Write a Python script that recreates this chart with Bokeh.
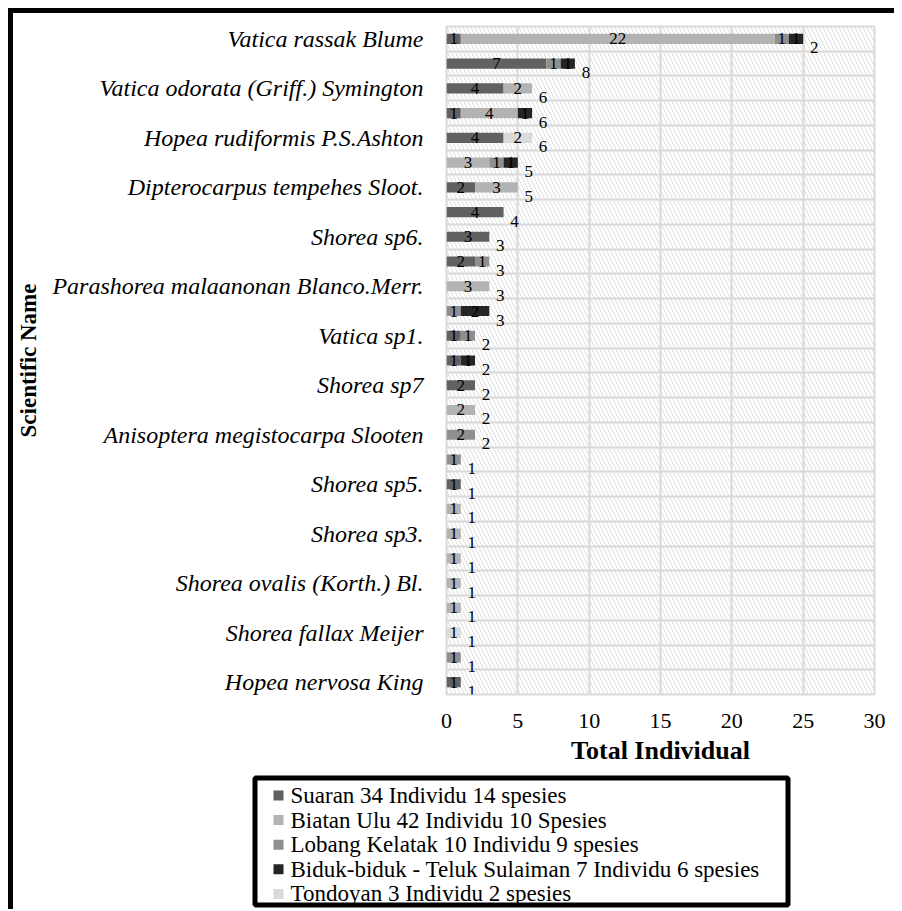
import numpy as np
from bokeh.plotting import figure
from bokeh.layouts import column
from bokeh.models import ColumnDataSource, Range1d, FixedTicker
from bokeh.core.properties import value
from bokeh.embed import file_html
from bokeh.resources import INLINE

# ---- data (rows top to bottom; 27 species rows, every other one labelled) ----
label_rows = [1, 3, 5, 7, 9, 11, 13, 15, 17, 19, 21, 23, 25, 27]
species_labels = [
    "Vatica rassak Blume",
    "Vatica odorata (Griff.) Symington",
    "Hopea rudiformis P.S.Ashton",
    "Dipterocarpus tempehes Sloot.",
    "Shorea sp6.",
    "Parashorea malaanonan Blanco.Merr.",
    "Vatica sp1.",
    "Shorea sp7",
    "Anisoptera megistocarpa Slooten",
    "Shorea sp5.",
    "Shorea sp3.",
    "Shorea ovalis (Korth.) Bl.",
    "Shorea fallax Meijer",
    "Hopea nervosa King",
]
series_names = [
    "Suaran 34 Individu 14 spesies",
    "Biatan Ulu 42 Individu 10 Spesies",
    "Lobang Kelatak 10 Individu 9 spesies",
    "Biduk-biduk - Teluk Sulaiman 7 Individu 6 spesies",
    "Tondoyan 3 Individu 2 spesies",
]
suaran   = [1, 7, 4, 1, 4, 0, 2, 4, 3, 2, 0, 0, 1, 1, 2, 0, 0, 0, 1, 0, 0, 0, 0, 0, 0, 0, 1]
biatan   = [22, 0, 2, 4, 0, 3, 3, 0, 0, 0, 3, 0, 0, 0, 0, 2, 0, 0, 0, 1, 1, 1, 1, 1, 0, 0, 0]
lobang   = [1, 1, 0, 0, 0, 1, 0, 0, 0, 1, 0, 1, 1, 0, 0, 0, 2, 1, 0, 0, 0, 0, 0, 0, 0, 1, 0]
biduk    = [1, 1, 0, 1, 0, 1, 0, 0, 0, 0, 0, 2, 0, 1, 0, 0, 0, 0, 0, 0, 0, 0, 0, 0, 0, 0, 0]
tondoyan = [0, 0, 0, 0, 2, 0, 0, 0, 0, 0, 0, 0, 0, 0, 0, 0, 0, 0, 0, 0, 0, 0, 0, 0, 1, 0, 0]
total_labels = ["2", "8", "6", "6", "6", "5", "5", "4", "3", "3", "3", "3", "2", "2",
                "2", "2", "2", "1", "1", "1", "1", "1", "1", "1", "1", "1", "1"]
x_ticks = [0, 5, 10, 15, 20, 25, 30]

colors = ["#616161", "#b3b3b3", "#8f8f8f", "#252525", "#dadada"]
FONT = "Liberation Serif"

n_rows = len(suaran)
rows = np.arange(1, n_rows + 1)

W, H_MAIN, H_LEG = 881, 760, 136

p = figure(width=W, height=H_MAIN,
           x_range=Range1d(x_ticks[0], x_ticks[-1]),
           y_range=Range1d(n_rows + 0.5, 0.5),
           output_backend="svg", toolbar_location=None,
           min_border_left=433, min_border_right=20,
           min_border_top=13, min_border_bottom=79)
p.frame_align = False
p.background_fill_color = "white"
p.border_fill_color = "white"
p.outline_line_color = "#d9d9d9"
p.outline_line_width = 2

# hatched plot-area background
p.quad(left=[x_ticks[0]], right=[x_ticks[-1]], bottom=[n_rows + 0.5], top=[0.5],
       fill_color=None, line_color=None, hatch_pattern="\\", hatch_color="#dedede",
       hatch_scale=8, hatch_weight=1, level="underlay")

# grids
p.xgrid.ticker = FixedTicker(ticks=x_ticks)
p.xgrid.grid_line_color = "#d9d9d9"
p.xgrid.grid_line_width = 2
p.ygrid.ticker = FixedTicker(ticks=[r + 0.5 for r in range(0, n_rows + 1)])
p.ygrid.grid_line_color = "#d9d9d9"
p.ygrid.grid_line_width = 2

# stacked bars
series = [suaran, biatan, lobang, biduk, tondoyan]
left = np.zeros(n_rows)
for name, vals, col in zip(series_names, series, colors):
    v = np.array(vals, dtype=float)
    right = left + v
    m = v > 0
    src = ColumnDataSource(dict(y=rows[m], left=left[m], right=right[m],
                                mid=(left + v / 2)[m],
                                txt=[str(int(a)) for a in v[m]]))
    p.hbar(y="y", left="left", right="right", height=0.41, source=src,
           fill_color=col, line_color=None)
    p.text(x="mid", y="y", text="txt", source=src, text_align="center",
           text_baseline="middle", text_font=value(FONT), text_font_size="17px",
           text_color="black")
    left = right

tot_src = ColumnDataSource(dict(x=left, y=rows, txt=total_labels))
p.text(x="x", y="y", text="txt", source=tot_src, text_align="center",
       text_baseline="middle", x_offset=11, y_offset=9,
       text_font=value(FONT), text_font_size="17px", text_color="black")

# axes
p.xaxis.ticker = FixedTicker(ticks=x_ticks)
p.xaxis.axis_line_color = None
p.xaxis.major_tick_line_color = None
p.xaxis.minor_tick_line_color = None
p.xaxis.major_label_text_font = FONT
p.xaxis.major_label_text_font_size = "22px"
p.xaxis.major_label_text_color = "black"
p.xaxis.major_label_standoff = 13
p.xaxis.axis_label = "Total Individual"
p.xaxis.axis_label_text_font = FONT
p.xaxis.axis_label_text_font_size = "26px"
p.xaxis.axis_label_text_font_style = "bold"
p.xaxis.axis_label_text_color = "black"
p.xaxis.axis_label_standoff = 5

p.yaxis.ticker = FixedTicker(ticks=label_rows)
p.yaxis.major_label_overrides = {r: s for r, s in zip(label_rows, species_labels)}
p.yaxis.axis_line_color = None
p.yaxis.major_tick_line_color = None
p.yaxis.minor_tick_line_color = None
p.yaxis.major_label_text_font = FONT
p.yaxis.major_label_text_font_size = "24px"
p.yaxis.major_label_text_font_style = "italic"
p.yaxis.major_label_text_color = "black"
p.yaxis.major_label_standoff = 17
p.yaxis.axis_label = "Scientific Name"
p.yaxis.axis_label_text_font = FONT
p.yaxis.axis_label_text_font_size = "23px"
p.yaxis.axis_label_text_font_style = "bold"
p.yaxis.axis_label_text_color = "black"
p.yaxis.axis_label_standoff = 8

# ---- legend panel (screen-pixel coordinates, y downwards) ----
pl = figure(width=W, height=H_LEG, x_range=Range1d(0, W), y_range=Range1d(H_LEG, 0),
            output_backend="svg", toolbar_location=None,
            x_axis_location=None, y_axis_location=None, min_border=0)
pl.frame_align = False
pl.grid.visible = False
pl.outline_line_color = None
pl.background_fill_color = "white"
pl.border_fill_color = "white"

box_l, box_r, box_t, box_b = 241.5, 774.5, 4.5, 131.5
row0, row_step = 22.0, 24.6
swatch_x, text_x = 265, 277
item_y = row0 + row_step * np.arange(len(series_names))

pl.quad(left=[box_l], right=[box_r], top=[box_t], bottom=[box_b],
        fill_color="white", line_color="black", line_width=5)
leg_src = ColumnDataSource(dict(y=item_y, col=colors, name=series_names))
pl.scatter(x=swatch_x, y="y", source=leg_src, marker="square", size=10,
           fill_color="col", line_color=None)
pl.text(x=text_x, y="y", text="name", source=leg_src, text_baseline="middle",
        text_align="left", text_font=value(FONT), text_font_size="23px",
        text_color="black")

layout = column(p, pl, spacing=0)
layout.styles = {"border-left": "5px solid black", "border-top": "5px solid black",
                 "margin-left": "8px", "margin-top": "8px"}

open("out.html", "w").write(file_html(layout, INLINE))
